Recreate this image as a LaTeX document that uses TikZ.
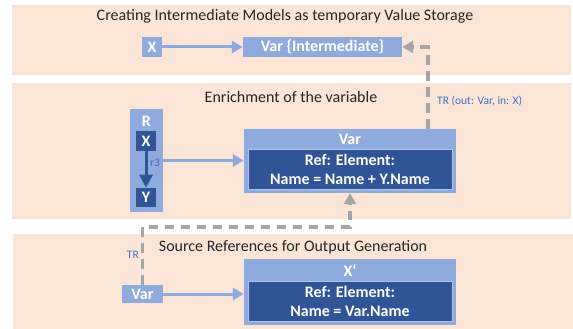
\documentclass[tikz,border=0pt]{standalone}
\usepackage{fontspec}
\setmainfont{Carlito}
\usetikzlibrary{arrows.meta}
\definecolor{peach}{HTML}{FBE5D6}
\definecolor{lblue}{HTML}{8FAADC}
\definecolor{dblue}{HTML}{2F5597}
\definecolor{gline}{HTML}{A6A6A6}
\definecolor{tblue}{HTML}{4472C4}
\begin{document}
\begin{tikzpicture}[x=1pt,y=-1pt,
  panel/.style={fill=peach},
  ptitle/.style={font=\fontsize{16}{18}\selectfont, text=black!85},
  lbox/.style={fill=lblue, text=white, inner sep=0pt, font=\fontsize{16}{18}\selectfont\bfseries},
  dbox/.style={fill=dblue, draw=lblue!70!white, line width=0.6pt, text=white, inner sep=0pt, align=center, font=\fontsize{16}{19}\selectfont\bfseries},
  plabel/.style={text=white, inner sep=0pt, font=\fontsize{16}{18}\selectfont\bfseries},
  small/.style={text=tblue, inner sep=0pt, font=\fontsize{11.5}{13}\selectfont},
  larrow/.style={draw=lblue, line width=3pt, -{Triangle[width=12pt,length=11pt]}},
  darrow/.style={draw=dblue, line width=3pt, -{Triangle[width=13pt,length=13pt]}},
  garrow/.style={draw=gline, line width=3.5pt, dash pattern=on 9.5pt off 6.5pt, -{Triangle[width=12pt,length=11pt]}}
]
\useasboundingbox (0,0) rectangle (573,329);
% panels
\fill[panel] (12,5) rectangle (571,75);
\fill[panel] (12,83) rectangle (571,219);
\fill[panel] (13,234) rectangle (573,329);
% titles
\node[ptitle] (t1) at (285,16) {Creating Intermediate Models as temporary Value Storage};
\node[ptitle] (t2) at (291,97) {Enrichment of the variable};
\node[ptitle] (t3) at (293,247) {Source References for Output Generation};
% top row
\node[lbox, minimum width=20pt, minimum height=20pt] (tx) at (152,47) {X};
\node[lbox, minimum width=159pt, minimum height=20pt] (tvar) at (322.5,47) {Var \{Intermediate\}};
% middle
\node[lbox, minimum width=33pt, minimum height=103pt] (rbox) at (146.5,160.5) {};
\node[plabel] (rlab) at (146.5,121) {R};
\node[dbox, draw=none, minimum width=20pt, minimum height=20pt] (mx) at (146,141) {X};
\node[dbox, draw=none, minimum width=20pt, minimum height=19pt] (my) at (146,197.5) {Y};
\node[lbox, minimum width=212pt, minimum height=64pt] (mvar) at (350,161) {};
\node[plabel] (mvarlab) at (350,139) {Var};
\node[dbox, minimum width=204pt, minimum height=40pt] (mref) at (350,169) {Ref: Element:\\Name = Name + Y.Name};
% bottom
\node[lbox, minimum width=41pt, minimum height=18pt] (bvar) at (142.5,294) {Var};
\node[lbox, minimum width=212pt, minimum height=66pt] (xp) at (350,292) {};
\node[plabel] (xplab) at (350,271) {X‘};
\node[dbox, minimum width=204pt, minimum height=40pt] (xref) at (350,301) {Ref: Element:\\Name = Var.Name};
% connectors
\draw[larrow] (tx) -- (tvar);
\draw[darrow] (mx) -- (my);
\draw[larrow] (rbox.east) -- (rbox.east -| mvar.west);
\node[small, anchor=west] (r3) at (150,163) {r3};
\draw[larrow] (bvar.east) -- (bvar.east -| xp.west);
\draw[garrow] ([xshift=78pt]mvar.north) |- (tvar.east);
\node[small, anchor=west] (trtop) at (437,101) {TR (out: Var, in: X)};
\coordinate (turn1) at (142.5,227);
\draw[garrow] (bvar.north) -- (turn1) -| (mvar.south);
\node[small, anchor=east] (trbot) at (139,255) {TR};
\end{tikzpicture}
\end{document}
